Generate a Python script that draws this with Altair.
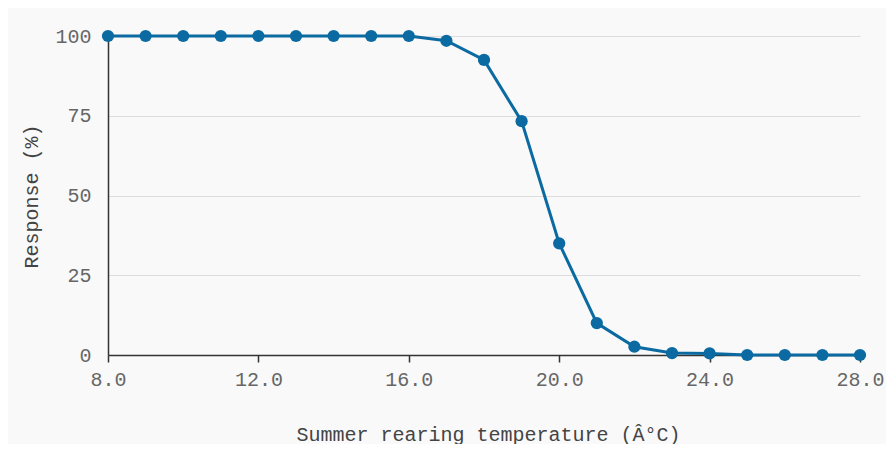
import altair as alt
import pandas as pd

temperature = [8, 9, 10, 11, 12, 13, 14, 15, 16, 17, 18, 19, 20, 21, 22, 23, 24, 25, 26, 27, 28]
response = [100, 100, 100, 100, 100, 100, 100, 100, 100, 98.5, 92.5, 73.3, 35.0, 10.0, 2.6, 0.6, 0.5, 0, 0, 0, 0]
x_ticks = [8, 12, 16, 20, 24, 28]
y_ticks = [0, 25, 50, 75, 100]

df = pd.DataFrame({"temp": temperature, "resp": response})

FONT = "Liberation Mono"
COLOR = "#0a6aa1"

x = alt.X("temp:Q",
          scale=alt.Scale(domain=[8, 28], nice=False, zero=False),
          axis=alt.Axis(title="Summer rearing temperature (Â°C)", values=x_ticks, format=".1f",
                        grid=False, domainColor="#333333", domainWidth=1.5, labelFlush=False,
                        labelOverlap=False,
                        tickColor="#333333", tickSize=7, tickWidth=1.5, labelPadding=7,
                        labelColor="#666666", labelFontSize=20, labelFont=FONT,
                        titleColor="#444444", titleFontSize=20, titleFont=FONT, titleFontWeight="normal",
                        titleX=380, titleY=69, titleBaseline="top", titleAlign="center"))
y = alt.Y("resp:Q",
          scale=alt.Scale(domain=[0, 100], nice=False),
          axis=alt.Axis(title="Response (%)", values=y_ticks, grid=True, gridColor="#dddddd",
                        gridWidth=1, ticks=False, domainColor="#333333", domainWidth=1.5,
                        labelFlush=False,
                        labelPadding=17, labelColor="#666666", labelFontSize=20, labelFont=FONT,
                        titleColor="#444444", titleFontSize=20, titleFont=FONT, titleFontWeight="normal",
                        titleX=-77, titleY=160, titleAngle=270, titleAlign="center", titleBaseline="middle"))

line = alt.Chart(df).mark_line(color=COLOR, strokeWidth=3).encode(x=x, y=y)
pts = alt.Chart(df).mark_point(color=COLOR, filled=True, opacity=1, size=150).encode(x=x, y=y)

chart = (line + pts).properties(
    width=752, height=319,
    autosize=alt.AutoSizeParams(type="none"),
    padding={"left": 100, "top": 28, "right": 26, "bottom": 89},
    background="#f9f9f9",
).configure_view(stroke=None)

chart.save("out.html", embed_options={"renderer": "svg", "actions": False})
